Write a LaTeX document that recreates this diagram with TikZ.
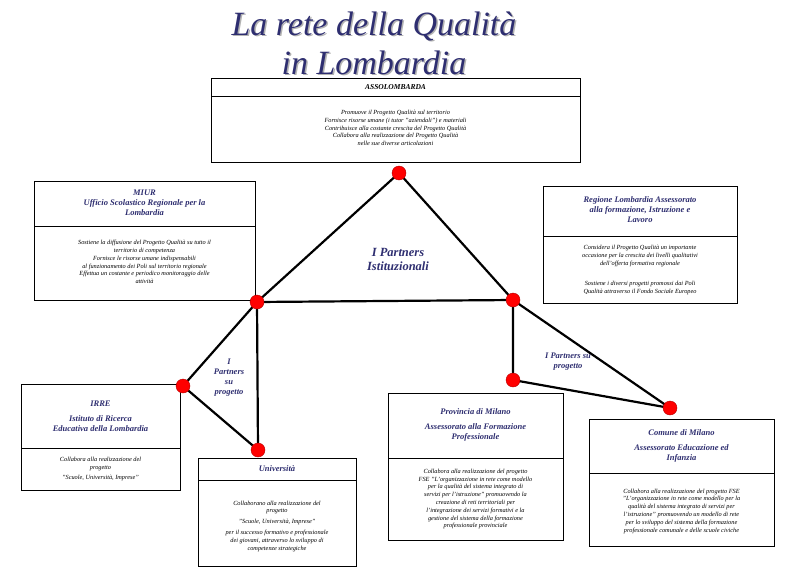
\documentclass[tikz,border=0pt]{standalone}
\usepackage{fontspec}
\setmainfont{Liberation Serif}
\begin{document}
\begin{tikzpicture}[x=1pt,y=-1pt,
  box/.style={draw=black,line width=0.7pt,fill=white},
  hd/.style={font=\fontsize{8.5}{10}\selectfont\bfseries\itshape,text=hcol,align=center},
  bd/.style={font=\fontsize{6.3}{7.8}\selectfont\itshape,align=center},
  dot/.style={circle,fill=red,draw=red!70!black,minimum size=14pt,inner sep=0pt},
  link/.style={line width=2.2pt,black},
  lab/.style={font=\fontsize{10}{11}\selectfont\bfseries\itshape,text=hcol,align=center}]
\definecolor{hcol}{HTML}{2E2E70}
\useasboundingbox (0,0) rectangle (794,578);
% title
\node[font=\fontsize{34}{39}\selectfont\itshape,text=gray!60,align=center] at (375.5,44.5) {La rete della Qualità\\in Lombardia};
\node[font=\fontsize{34}{39}\selectfont\itshape,text=hcol,align=center] (title) at (374,43) {La rete della Qualità\\in Lombardia};
% boxes
\draw[box] (211,78) rectangle (580,162); \draw (211,96)--(580,96);
\node[hd,font=\fontsize{7.5}{8}\selectfont\bfseries\itshape,text=black] (asso) at (395.5,87) {ASSOLOMBARDA};
\node[bd] (assob) at (395.5,128) {Promuove il Progetto Qualità sul territorio\\Fornisce risorse umane (i tutor "aziendali") e materiali\\Contribuisce alla costante crescita del Progetto Qualità\\Collabora alla realizzazione del Progetto Qualità\\nelle sue diverse articolazioni};
\draw[box] (34,181) rectangle (255,300); \draw (34,226)--(255,226);
\node[hd] (miur) at (144.5,203) {MIUR\\Ufficio Scolastico Regionale per la\\Lombardia};
\node[bd] (miurb) at (144.5,262) {Sostiene la diffusione del Progetto Qualità su tutto il\\territorio di competenza\\Fornisce le risorse umane indispensabili\\al funzionamento dei Poli sul territorio regionale\\Effettua un costante e periodico monitoraggio delle\\attività};
\draw[box] (543,186) rectangle (737,303); \draw (543,236)--(737,236);
\node[hd] (reg) at (640,210) {Regione Lombardia Assessorato\\alla formazione, Istruzione e\\Lavoro};
\node[bd] (regb1) at (640,256) {Considera il Progetto Qualità un importante\\occasione per la crescita dei livelli qualitativi\\dell'offerta formativa regionale};
\node[bd] (regb2) at (640,288) {Sostiene i diversi progetti promossi dai Poli\\Qualità attraverso il Fondo Sociale Europeo};
\draw[box] (21,384) rectangle (180,490); \draw (21,448)--(180,448);
\node[hd,align=center] (irre) at (100.5,416) {IRRE\\[5pt]Istituto di Ricerca\\Educativa della Lombardia};
\node[bd] (irreb) at (100.5,469) {Collabora alla realizzazione del\\progetto\\[3pt]"Scuole, Università, Imprese"};
\draw[box] (198,458) rectangle (356,566); \draw (198,480)--(356,480);
\node[hd] (uni) at (277,469) {Università};
\node[bd] (unib) at (277,526) {Collaborano alla realizzazione del\\progetto\\[3pt]"Scuole, Università, Imprese"\\[3pt]per il successo formativo e professionale\\dei giovani, attraverso lo sviluppo di\\competenze strategiche};
\draw[box] (388,393) rectangle (563,540); \draw (388,458)--(563,458);
\node[hd] (prov) at (475.5,425) {Provincia di Milano\\[5pt]Assessorato alla Formazione\\Professionale};
\node[bd] (provb) at (475.5,499) {Collabora alla realizzazione del progetto\\FSE "L'organizzazione in rete come modello\\per la qualità del sistema integrato di\\servizi per l'istruzione" promuovendo la\\creazione di reti territoriali per\\l'integrazione dei servizi formativi e la\\gestione del sistema della formazione\\professionale provinciale};
\draw[box] (589,419) rectangle (774,546); \draw (589,473)--(774,473);
\node[hd] (com) at (681.5,446) {Comune di Milano\\[5pt]Assessorato Educazione ed\\Infanzia};
\node[bd] (comb) at (681.5,511) {Collabora alla realizzazione del progetto FSE\\"L'organizzazione in rete come modello per la\\qualità del sistema integrato di servizi per\\l'istruzione" promuovendo un modello di rete\\per lo sviluppo del sistema della formazione\\professionale comunale e delle scuole civiche};
% dots and links
\coordinate (ctop) at (399,173);
\coordinate (cleft) at (257,302);
\coordinate (cright) at (513,300);
\coordinate (cirre) at (183,386);
\coordinate (cuni) at (258,450);
\coordinate (cprov) at (513,380);
\coordinate (ccom) at (670,408);
\draw[link] (ctop)--(cleft)--(cright)--cycle;
\draw[link] (cleft)--(cirre)--(cuni)--(cleft);
\draw[link] (cright)--(cprov)--(ccom)--(cright);
\node[dot] (dtop) at (ctop) {};
\node[dot] (dleft) at (cleft) {};
\node[dot] (dright) at (cright) {};
\node[dot] (dirre) at (cirre) {};
\node[dot] (duni) at (cuni) {};
\node[dot] (dprov) at (cprov) {};
\node[dot] (dcom) at (ccom) {};
% labels
\node[lab,font=\fontsize{12.5}{14}\selectfont\bfseries\itshape] (pi) at (398,259) {I Partners\\Istituzionali};
\node[lab,font=\fontsize{8.5}{10}\selectfont\bfseries\itshape] (pl) at (229,378) {I\\Partners\\su\\progetto};
\node[lab,font=\fontsize{8.5}{10}\selectfont\bfseries\itshape] (pr) at (568,362) {I Partners su\\progetto};
\end{tikzpicture}
\end{document}
